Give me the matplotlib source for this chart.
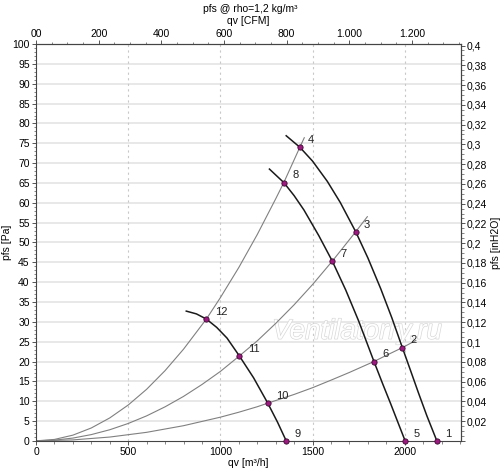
import matplotlib
matplotlib.use("Agg")
import matplotlib.pyplot as plt
import matplotlib.patheffects as pe
from matplotlib.ticker import MultipleLocator, FuncFormatter

plt.rcParams['font.family'] = ['Liberation Sans', 'DejaVu Sans']
plt.rcParams['font.size'] = 7.5

# fan curves (qv m3/h, pfs Pa)
fan_a_x = [1357, 1431, 1500, 1580, 1650, 1734, 1800, 1870, 1930, 1987, 2030, 2075, 2120, 2174]
fan_a_y = [76.9, 74.0, 70.5, 65.4, 60.1, 52.7, 46.1, 38.3, 31.0, 23.5, 17.9, 12.0, 6.3, 0.0]
fan_b_x = [1266, 1344, 1400, 1453, 1534, 1607, 1680, 1750, 1833, 1880, 1924, 1960, 2002]
fan_b_y = [68.5, 65.1, 61.8, 58.2, 51.7, 45.3, 38.0, 30.2, 20.0, 14.4, 9.3, 5.0, 0.0]
fan_c_x = [815, 870, 924, 980, 1036, 1103, 1180, 1257, 1310, 1357]
fan_c_y = [32.7, 32.0, 30.7, 28.6, 25.9, 21.4, 15.9, 9.5, 4.7, 0.0]

# system curves
sys_low_x = [0, 200, 400, 600, 800, 1000, 1100, 1200, 1257, 1400, 1500, 1600, 1700, 1833, 1900, 1987, 2060]
sys_low_y = [0, 0.24, 0.96, 2.15, 3.82, 5.97, 7.22, 8.6, 9.5, 11.7, 13.4, 15.3, 17.25, 20.0, 21.55, 23.5, 25.3]
sys_mid_x = [0, 100, 200, 300, 400, 500, 600, 700, 800, 900, 1000, 1103, 1200, 1300, 1400, 1500, 1607, 1734, 1797]
sys_mid_y = [0, 0.18, 0.7, 1.58, 2.8, 4.38, 6.3, 8.58, 11.2, 14.2, 17.5, 21.4, 25.2, 29.6, 34.3, 39.4, 45.3, 52.7, 56.5]
sys_high_x = [0, 100, 200, 300, 400, 500, 600, 700, 800, 924, 1000, 1100, 1200, 1300, 1344, 1431, 1455]
sys_high_y = [0, 0.36, 1.44, 3.25, 5.78, 9.03, 13.0, 17.7, 23.1, 30.7, 36.1, 43.7, 52.0, 61.0, 65.1, 74.0, 76.4]

# operating points
pt_labels = ['1', '2', '3', '4', '5', '6', '7', '8', '9', '10', '11', '12']
pt_x = [2174, 1987, 1734, 1431, 2002, 1833, 1607, 1344, 1357, 1257, 1103, 924]
pt_y = [0.0, 23.5, 52.7, 74.0, 0.0, 20.0, 45.3, 65.1, 0.0, 9.5, 21.4, 30.7]

M3H_PER_CFM = 1.699
PA_PER_INH2O = 249.09

fig = plt.figure(figsize=(5.0, 4.69), dpi=100)
ax = fig.add_axes([0.072, 0.06, 0.85, 0.846])

ax.set_xlim(0, 2305)
ax.set_ylim(0, 100)

for y in range(5, 100, 5):
    ax.axhline(y, color='#e4e4e4', lw=1.2, zorder=0)
for x in [500, 1000, 1500, 2000]:
    ax.axvline(x, color='#c8c8c8', lw=0.8, ls=(0, (2, 3)), zorder=0)

for xs, ys in [(sys_low_x, sys_low_y), (sys_mid_x, sys_mid_y), (sys_high_x, sys_high_y)]:
    ax.plot(xs, ys, color='#808080', lw=0.8, zorder=2)
for xs, ys in [(fan_a_x, fan_a_y), (fan_b_x, fan_b_y), (fan_c_x, fan_c_y)]:
    ax.plot(xs, ys, color='#1a1a1a', lw=1.1, zorder=3)

ax.plot(pt_x, pt_y, 'o', ms=3.8, mfc='#9c1a80', mec='#3a0a30', mew=0.6, zorder=5, clip_on=False)
for lab, x, y in zip(pt_labels, pt_x, pt_y):
    ax.annotate(lab, (x, y), xytext=(6, 3), textcoords='offset points', fontsize=8, color='#222222')

ax.text(1740, 27.5, 'Ventilatorry.ru', fontsize=20, style='italic', color='white',
        ha='center', va='center', zorder=1,
        path_effects=[pe.withStroke(linewidth=1.0, foreground='#d8d8d8')])

ax.xaxis.set_major_locator(MultipleLocator(500))
ax.xaxis.set_minor_locator(MultipleLocator(100))
ax.yaxis.set_major_locator(MultipleLocator(5))
ax.yaxis.set_minor_locator(MultipleLocator(1))
ax.tick_params(which='major', length=3, width=0.7, color='#555555', pad=1.5)
ax.tick_params(which='minor', length=1.8, width=0.5, color='#555555')
for s in ax.spines.values():
    s.set_color('#444444')
    s.set_linewidth(0.8)

ax.set_xlabel('qv [m³/h]', labelpad=1)
ax.set_ylabel('pfs [Pa]', labelpad=0.5)

top = ax.secondary_xaxis('top', functions=(lambda v: v / M3H_PER_CFM, lambda v: v * M3H_PER_CFM))
top.xaxis.set_major_locator(MultipleLocator(200))
top.xaxis.set_minor_locator(MultipleLocator(50))
top.xaxis.set_major_formatter(FuncFormatter(
    lambda v, p: '00' if v == 0 else f'{int(round(v)):,}'.replace(',', '.')))
top.tick_params(which='major', length=3, width=0.7, color='#555555', pad=1)
top.tick_params(which='minor', length=1.8, width=0.5, color='#555555')
top.set_xlabel('qv [CFM]', labelpad=3)
top.spines['top'].set_color('#444444')

right = ax.secondary_yaxis('right', functions=(lambda v: v / PA_PER_INH2O, lambda v: v * PA_PER_INH2O))
right.yaxis.set_major_locator(MultipleLocator(0.02))
right.yaxis.set_minor_locator(MultipleLocator(0.005))
right.yaxis.set_major_formatter(FuncFormatter(
    lambda v, p: '' if abs(v) < 1e-9 else f'{v:.2f}'.rstrip('0').replace('.', ',')))
right.tick_params(which='major', length=3, width=0.7, color='#555555', pad=1)
right.tick_params(which='minor', length=1.8, width=0.5, color='#555555')
right.set_ylabel('pfs [inH2O]', rotation=90, labelpad=3)
right.spines['right'].set_color('#444444')

fig.text(0.5, 0.992, 'pfs @ rho=1,2 kg/m³', ha='center', va='top', fontsize=7.5)

fig.savefig('out.png', dpi=100)
